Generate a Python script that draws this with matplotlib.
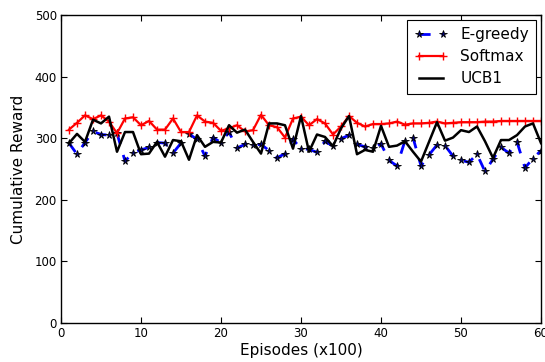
import matplotlib
matplotlib.use("Agg")
import matplotlib.pyplot as plt
import numpy as np

episodes = list(range(1, 61))

egreedy = [292, 274, 293, 311, 306, 305, 308, 263, 276, 281,
           285, 293, 292, 276, 292, 307, 298, 271, 301, 293,
           310, 284, 290, 289, 290, 280, 268, 275, 298, 283,
           282, 277, 295, 287, 299, 305, 290, 286, 284, 291,
           264, 255, 296, 301, 255, 273, 289, 288, 271, 264,
           261, 274, 246, 266, 285, 276, 294, 252, 267, 280]

softmax = [314, 325, 337, 331, 337, 327, 308, 332, 334, 321,
           328, 314, 314, 332, 310, 310, 337, 327, 325, 312,
           316, 321, 311, 313, 338, 321, 318, 301, 332, 335,
           321, 331, 324, 306, 319, 336, 325, 319, 323, 323,
           324, 327, 322, 324, 324, 325, 327, 324, 325, 326,
           326, 326, 327, 327, 328, 328, 328, 328, 328, 328]

ucb1 = [292, 307, 294, 330, 324, 335, 278, 310, 310, 274,
        275, 294, 270, 297, 295, 265, 305, 286, 294, 293,
        321, 309, 314, 294, 275, 324, 324, 321, 283, 336,
        278, 306, 302, 287, 316, 336, 274, 281, 278, 320,
        286, 288, 295, 278, 262, 294, 326, 296, 301, 313,
        310, 319, 295, 268, 297, 297, 305, 319, 324, 292]

fig = plt.figure(figsize=(5.45, 3.62), dpi=100)
ax = fig.add_axes([61/545, 1 - 323/362, 480/545, 308/362])

ax.plot(episodes, egreedy, color='blue', linestyle='--', linewidth=2,
        marker='*', markersize=5.5, markerfacecolor='navy',
        markeredgecolor='black', markeredgewidth=0.6, dashes=(4, 4),
        label='E-greedy')
ax.plot(episodes, softmax, color='red', linestyle='-', linewidth=1.6,
        marker='+', markersize=6, markeredgewidth=1.0, label='Softmax')
ax.plot(episodes, ucb1, color='black', linestyle='-', linewidth=1.8,
        label='UCB1')

ax.set_xlim(0, 60)
ax.set_ylim(0, 500)
ax.set_xticks(range(0, 61, 10))
ax.set_yticks(range(0, 501, 100))
ax.tick_params(direction='in', top=True, right=True, labelsize=8.5,
               length=4, width=0.8, pad=3)
for s in ax.spines.values():
    s.set_linewidth(1.0)

ax.set_xlabel('Episodes (x100)', fontsize=11, labelpad=2)
ax.set_ylabel('Cumulative Reward', fontsize=11, labelpad=6)

leg = ax.legend(loc='upper right', fontsize=11, numpoints=2,
                fancybox=False, edgecolor='black', framealpha=1,
                handlelength=2.2, borderpad=0.5, labelspacing=0.45,
                borderaxespad=0.3, handletextpad=0.8)
leg.get_frame().set_linewidth(0.8)

fig.savefig('out.png', dpi=100, facecolor='white')
